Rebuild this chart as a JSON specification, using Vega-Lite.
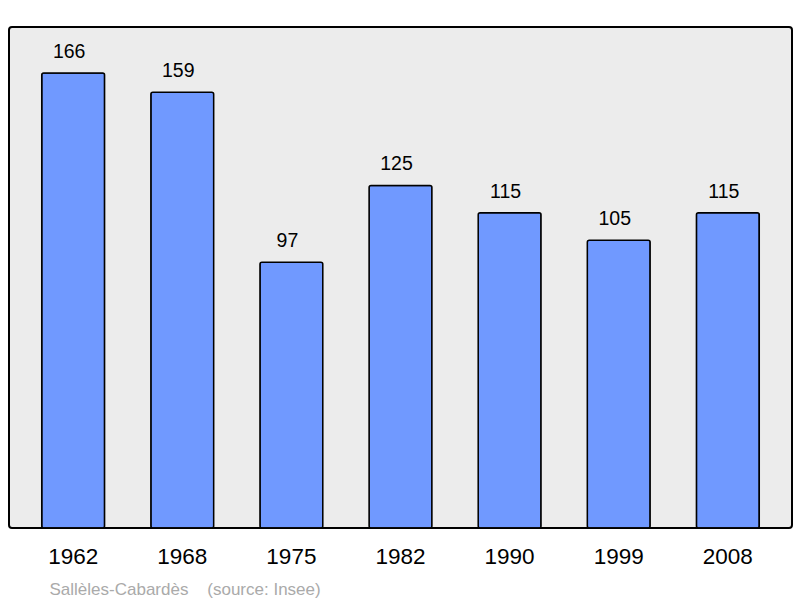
{
  "$schema": "https://vega.github.io/schema/vega-lite/v6.json",
  "autosize": "none",
  "width": 783,
  "height": 501,
  "padding": {"left": 9, "top": 27, "right": 8, "bottom": 70},
  "background": "white",
  "config": {
    "view": {"fill": "#ececec", "stroke": "#000000", "strokeWidth": 2, "cornerRadius": 3},
    "font": "Liberation Sans"
  },
  "data": {
    "values": [
      {"year": "1962", "pop": 166},
      {"year": "1968", "pop": 159},
      {"year": "1975", "pop": 97},
      {"year": "1982", "pop": 125},
      {"year": "1990", "pop": 115},
      {"year": "1999", "pop": 105},
      {"year": "2008", "pop": 115}
    ]
  },
  "encoding": {
    "x": {
      "field": "year",
      "type": "ordinal",
      "sort": null,
      "scale": {"paddingInner": 0.424, "paddingOuter": 0.3},
      "axis": {
        "domain": false,
        "ticks": false,
        "labelAngle": 0,
        "labelFontSize": 22.5,
        "labelColor": "#000000",
        "labelPadding": 17,
        "labelFont": "Liberation Sans",
        "title": "Sallèles-Cabardès\u00a0\u00a0\u00a0\u00a0(source: Insee)",
        "titleFont": "Liberation Sans",
        "titleFontSize": 17,
        "titleFontWeight": "normal",
        "titleColor": "#aaaaaa",
        "titleAnchor": "start",
        "titleAlign": "left",
        "titleX": 40,
        "titleY": 66,
        "titleBaseline": "alphabetic"
      }
    },
    "y": {
      "field": "pop",
      "type": "quantitative",
      "scale": {"domain": [0, 182.8], "nice": false},
      "axis": null
    }
  },
  "layer": [
    {
      "mark": {"type": "bar", "color": "#7099ff", "stroke": "#000000", "strokeWidth": 1.5, "cornerRadius": 2}
    },
    {
      "mark": {"type": "text", "baseline": "alphabetic", "dy": -15, "dx": -4, "fontSize": 19.5, "color": "#000000", "font": "Liberation Sans"},
      "encoding": {"text": {"field": "pop", "type": "quantitative"}}
    }
  ]
}
